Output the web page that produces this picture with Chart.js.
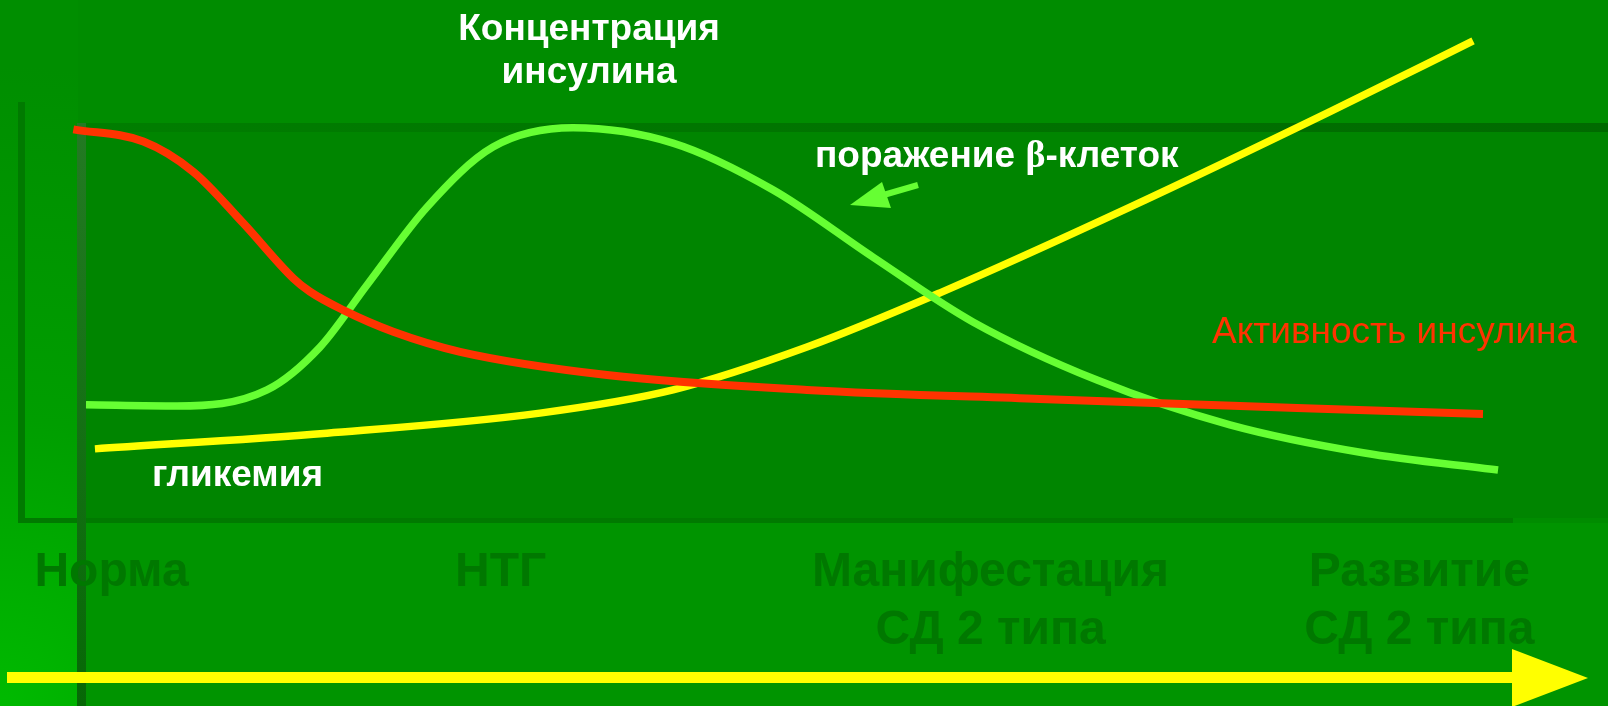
<!DOCTYPE html>
<html lang="ru">
<head>
<meta charset="utf-8">
<title>Инсулин и гликемия</title>
<script src="https://cdn.jsdelivr.net/npm/chart.js@4/dist/chart.umd.min.js"></script>
<style>
  html, body { margin: 0; padding: 0; background: #008c00; }
  #wrap { width: 1608px; height: 706px; position: relative; }
</style>
</head>
<body>
<div id="wrap"><canvas id="c"></canvas></div>
<script>
// ---- Data (x: disease progression 0..100, y: relative level 0..100) ----
const stageLabels = [["Норма"], ["НТГ"], ["Манифестация", "СД 2 типа"], ["Развитие", "СД 2 типа"]];
const stagePositions = [1.8, 29.2, 63.7, 93.9];

const insulinActivityX = [-0.89, 4.04, 7.56, 11.08, 14.60, 15.77, 18.12, 21.64, 26.34, 36.69, 50.77, 67.18, 85.28, 98.38];
const insulinActivityY = [99.4, 96.3, 88.6, 75.5, 61.5, 58.1, 53.4, 47.9, 42.8, 36.9, 33.1, 30.8, 28.5, 27.0];

const insulinConcX = [0, 6.41, 12.75, 16.48, 19.79, 24.01, 28.66, 34.30, 41.34, 48.38, 55.42, 62.46, 71.20, 80.56, 89.93, 99.44];
const insulinConcY = [29.3, 29.0, 33.1, 44.0, 59.8, 79.6, 94.9, 99.8, 95.9, 84.0, 66.9, 50.4, 35.6, 24.2, 17.1, 12.7];

const glycemiaX = [0.63, 16.97, 31.97, 41.34, 50.77, 60.14, 73.52, 87.61, 97.68];
const glycemiaY = [18.1, 22.1, 27.2, 33.1, 44.0, 57.8, 79.6, 103.9, 121.9];

function pts(xs, ys) { return xs.map((x, i) => ({ x: x, y: ys[i] })); }

const SANS = '"Liberation Sans", Arial, sans-serif';
const SERIF = '"Liberation Serif", "Times New Roman", serif';

const backdrop = {
  id: 'backdrop',
  beforeDraw(chart) {
    const ctx = chart.ctx, W = chart.width, H = chart.height;
    ctx.save();
    ctx.fillStyle = '#008c00';
    ctx.fillRect(0, 0, W, H);
    ctx.fillStyle = '#009400';
    ctx.fillRect(0, 523, W, H - 523);
    // bright left strip
    ctx.save();
    ctx.beginPath(); ctx.rect(0, 0, 78, H); ctx.clip();
    const rg = ctx.createRadialGradient(0, H, 0, 0, H, 640);
    rg.addColorStop(0, '#00ba00');
    rg.addColorStop(0.45, '#009e00');
    rg.addColorStop(1, '#008e00');
    ctx.fillStyle = rg;
    ctx.fillRect(0, 0, 78, H);
    ctx.restore();
    // inner frame area
    ctx.fillStyle = '#008500';
    ctx.fillRect(86, 132, W - 86, 518 - 132);
    // thin frame
    ctx.fillStyle = '#007a00';
    ctx.fillRect(18, 102, 7, 421);
    ctx.fillRect(18, 518, 1495, 5);
    // top band
    const tg = ctx.createLinearGradient(78, 0, W, 0);
    tg.addColorStop(0, '#007e00');
    tg.addColorStop(1, '#006a00');
    ctx.fillStyle = tg;
    ctx.fillRect(78, 123, W - 78, 9);
    // thick vertical
    const vg = ctx.createLinearGradient(0, 123, 0, H);
    vg.addColorStop(0, '#237a23');
    vg.addColorStop(1, '#066806');
    ctx.fillStyle = vg;
    ctx.fillRect(77, 123, 9, H - 123);
    ctx.restore();
  },
  beforeDatasetsDraw(chart) {
    const ctx = chart.ctx, xs = chart.scales.x;
    ctx.save();
    ctx.fillStyle = '#007800';
    ctx.font = 'bold 48px ' + SANS;
    ctx.textAlign = 'center';
    ctx.textBaseline = 'alphabetic';
    stageLabels.forEach((lines, i) => {
      const px = xs.getPixelForValue(stagePositions[i]);
      lines.forEach((t, j) => ctx.fillText(t, px, 586 + j * 58));
    });
    ctx.restore();
  },
  afterDatasetsDraw(chart) {
    const ctx = chart.ctx;
    ctx.save();
    // bottom axis arrow
    ctx.fillStyle = '#ffff00';
    ctx.fillRect(7, 672, 1507, 11);
    ctx.beginPath();
    ctx.moveTo(1512, 649); ctx.lineTo(1588, 678); ctx.lineTo(1512, 707); ctx.closePath();
    ctx.fill();
    // small arrow to beta-cell damage
    ctx.strokeStyle = '#66ff33';
    ctx.fillStyle = '#66ff33';
    ctx.lineWidth = 6;
    ctx.beginPath(); ctx.moveTo(918, 185); ctx.lineTo(880, 196); ctx.stroke();
    ctx.beginPath();
    ctx.moveTo(850, 205); ctx.lineTo(882, 182); ctx.lineTo(891, 208); ctx.closePath();
    ctx.fill();
    // texts
    ctx.textBaseline = 'alphabetic';
    ctx.fillStyle = '#ffffff';
    ctx.font = 'bold 37px ' + SANS;
    ctx.textAlign = 'center';
    ctx.fillText('Концентрация', 589, 40);
    ctx.fillText('инсулина', 589, 83);
    ctx.textAlign = 'left';
    ctx.fillText('гликемия', 152, 486);
    // поражение β-клеток
    let x = 815;
    const p1 = 'поражение ';
    ctx.fillText(p1, x, 167);
    x += ctx.measureText(p1).width;
    ctx.font = 'bold 38px ' + SERIF;
    ctx.fillText('β', x, 167);
    x += ctx.measureText('β').width;
    ctx.font = 'bold 37px ' + SANS;
    ctx.fillText('-клеток', x, 167);
    // red label
    ctx.fillStyle = '#ff3300';
    ctx.font = '37px ' + SANS;
    ctx.fillText('Активность инсулина', 1212, 343);
    ctx.restore();
  }
};

new Chart(document.getElementById('c'), {
  type: 'line',
  data: {
    datasets: [
      { label: 'Активность инсулина', data: pts(insulinActivityX, insulinActivityY), borderColor: '#ff3300', borderWidth: 8 },
      { label: 'Концентрация инсулина', data: pts(insulinConcX, insulinConcY), borderColor: '#66ff33', borderWidth: 7.5 },
      { label: 'гликемия', data: pts(glycemiaX, glycemiaY), borderColor: '#ffff00', borderWidth: 7.5 }
    ]
  },
  options: {
    responsive: true,
    maintainAspectRatio: false,
    animation: false,
    layout: { padding: 0 },
    elements: {
      point: { radius: 0, hoverRadius: 0 },
      line: { cubicInterpolationMode: 'monotone', fill: false, borderCapStyle: 'butt', borderJoinStyle: 'round' }
    },
    plugins: { legend: { display: false }, tooltip: { enabled: false } },
    scales: {
      x: { type: 'linear', display: false, min: -6.056, max: 107.183 },
      y: { type: 'linear', display: false, min: -47.328, max: 132.316 }
    }
  },
  plugins: [backdrop]
});
</script>
</body>
</html>
